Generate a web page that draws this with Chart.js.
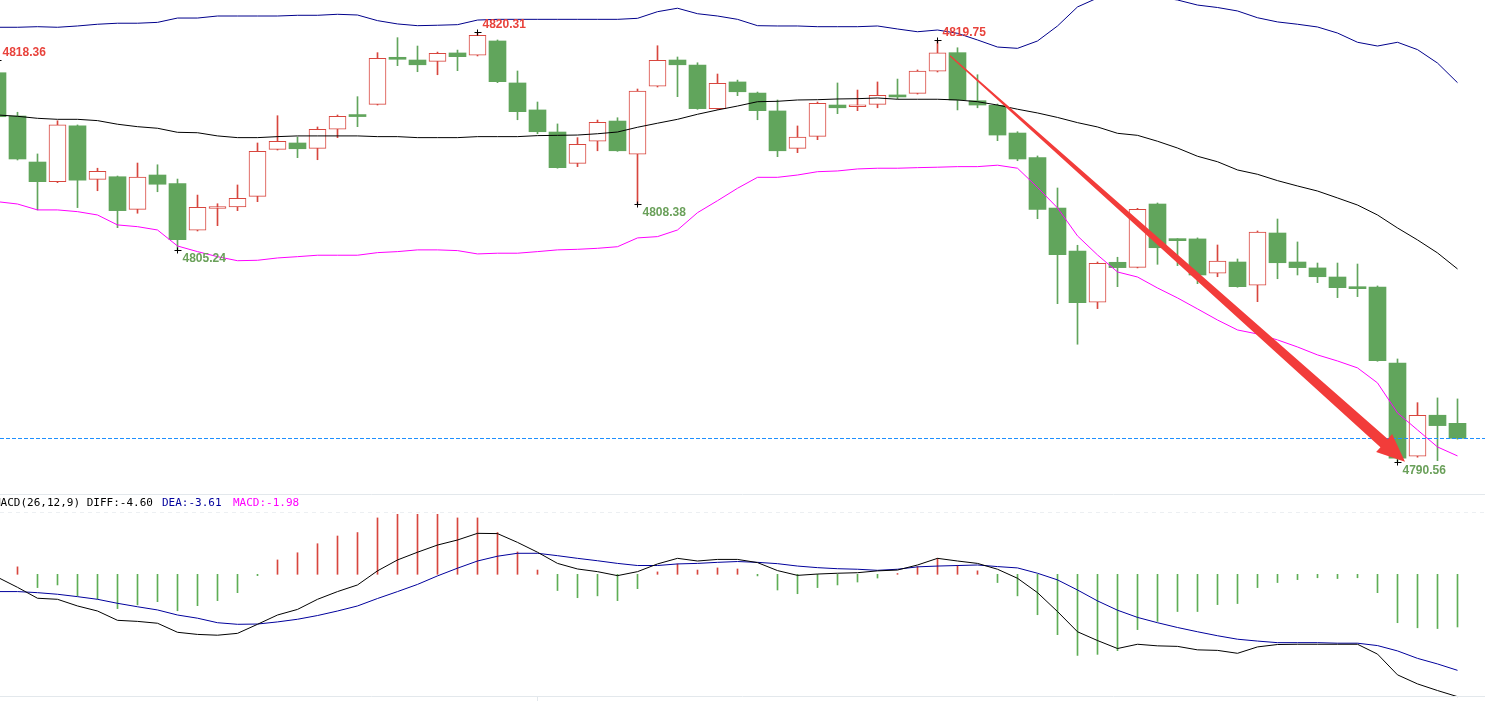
<!DOCTYPE html>
<html>
<head>
<meta charset="utf-8">
<script src="https://cdn.jsdelivr.net/npm/chart.js@4.4.0/dist/chart.umd.min.js"></script>
<style>
    body { margin: 0; background: #fff; overflow: hidden; }
    #wrap { position: relative; width: 1485px; height: 701px; }
    canvas { position: absolute; left: 0; }
    #priceChart { top: 0; width: 1485px; height: 494px; }
    #macdChart { top: 494px; width: 1485px; height: 207px; }
</style>
</head>
<body>
<div id="wrap">
    <canvas id="priceChart" width="1485" height="494"></canvas>
    <canvas id="macdChart" width="1485" height="207"></canvas>
</div>
<script>
// candles
const candleOpen = [4817.51, 4814.51, 4811.32, 4809.96, 4813.82, 4810.12, 4810.30, 4808.04, 4810.42, 4809.82,
    4806.59, 4808.10, 4808.20, 4808.94, 4812.20, 4812.64, 4812.27, 4813.59, 4814.50, 4815.32,
    4818.51, 4818.39, 4818.30, 4818.88, 4818.72, 4819.71, 4816.80, 4814.93, 4813.40, 4811.23,
    4812.76, 4814.16, 4811.86, 4816.57, 4818.39, 4818.04, 4815.02, 4816.87, 4816.10, 4814.86,
    4812.27, 4813.10, 4815.27, 4815.15, 4815.32, 4815.96, 4816.08, 4817.61, 4818.90, 4815.57,
    4815.25, 4813.33, 4811.62, 4808.13, 4805.15, 4801.60, 4804.37, 4804.02, 4808.41, 4805.96,
    4805.99, 4803.61, 4804.39, 4802.78, 4806.40, 4804.39, 4803.98, 4803.35, 4802.66, 4802.66,
    4797.39, 4790.93, 4793.77, 4793.21];
const candleHigh = [4818.36, 4814.77, 4811.88, 4814.18, 4813.89, 4810.89, 4810.35, 4811.25, 4811.13, 4810.14,
    4809.03, 4808.43, 4809.73, 4812.64, 4814.53, 4813.05, 4813.75, 4814.58, 4815.85, 4818.90,
    4819.94, 4819.36, 4818.94, 4819.08, 4820.31, 4819.78, 4817.63, 4815.48, 4813.96, 4813.01,
    4814.23, 4814.39, 4816.38, 4819.38, 4818.60, 4818.20, 4817.42, 4817.00, 4816.17, 4815.62,
    4813.82, 4815.48, 4816.80, 4816.31, 4816.87, 4817.07, 4817.70, 4819.75, 4819.24, 4817.37,
    4815.34, 4813.42, 4811.74, 4809.52, 4805.55, 4804.39, 4804.72, 4808.11, 4808.48, 4806.01,
    4806.06, 4805.57, 4804.60, 4806.54, 4807.37, 4805.78, 4804.32, 4804.32, 4804.25, 4802.73,
    4797.67, 4794.64, 4794.97, 4794.90];
const candleLow = [4814.41, 4811.46, 4808.00, 4809.89, 4808.16, 4809.33, 4806.77, 4807.77, 4809.26, 4805.24,
    4806.54, 4806.91, 4807.95, 4808.57, 4812.15, 4811.62, 4811.48, 4813.01, 4813.77, 4815.27,
    4818.00, 4817.58, 4817.37, 4817.65, 4818.67, 4816.82, 4814.25, 4813.28, 4810.89, 4811.00,
    4812.10, 4812.06, 4808.38, 4816.52, 4815.85, 4814.97, 4814.96, 4815.92, 4814.25, 4811.69,
    4811.97, 4812.87, 4814.67, 4814.88, 4815.08, 4815.69, 4816.03, 4817.56, 4814.93, 4815.08,
    4812.80, 4811.41, 4807.39, 4801.50, 4798.69, 4801.16, 4802.68, 4803.98, 4804.23, 4804.14,
    4802.89, 4803.37, 4802.64, 4801.64, 4803.23, 4803.49, 4802.96, 4801.92, 4801.99, 4797.51,
    4790.56, 4790.86, 4790.62, 4792.11];
const candleClose = [4814.46, 4811.53, 4809.96, 4813.89, 4810.07, 4810.68, 4807.95, 4810.28, 4809.78, 4805.94,
    4808.18, 4808.20, 4808.81, 4812.06, 4812.76, 4812.24, 4813.59, 4814.49, 4814.47, 4818.51,
    4818.44, 4818.06, 4818.85, 4818.62, 4820.10, 4816.89, 4814.81, 4813.42, 4810.93, 4812.55,
    4814.07, 4812.10, 4816.24, 4818.37, 4818.06, 4815.02, 4816.78, 4816.19, 4814.88, 4812.10,
    4813.05, 4815.39, 4815.08, 4815.20, 4815.94, 4815.83, 4817.63, 4818.88, 4815.62, 4815.27,
    4813.19, 4811.53, 4808.03, 4804.90, 4801.57, 4804.30, 4804.00, 4808.04, 4805.38, 4805.87,
    4803.49, 4804.46, 4802.68, 4806.47, 4804.34, 4804.00, 4803.37, 4802.61, 4802.54, 4797.55,
    4790.79, 4793.77, 4793.05, 4792.17];

// bollinger bands
const bollUpper = [4820.66, 4820.66, 4820.70, 4820.66, 4820.75, 4820.87, 4820.94, 4820.94, 4821.00, 4821.30,
    4821.30, 4821.44, 4821.44, 4821.44, 4821.44, 4821.49, 4821.49, 4821.56, 4821.51, 4821.12,
    4820.89, 4820.77, 4820.80, 4820.84, 4821.16, 4821.21, 4821.21, 4821.21, 4821.21, 4821.21,
    4821.21, 4821.21, 4821.28, 4821.74, 4821.98, 4821.60, 4821.44, 4821.21, 4820.77, 4820.75,
    4820.75, 4820.70, 4820.70, 4820.70, 4820.75, 4820.54, 4820.35, 4820.47, 4820.24, 4819.78,
    4819.29, 4819.20, 4819.71, 4820.75, 4822.07, 4822.69, 4822.97, 4822.97, 4822.76, 4822.55,
    4822.20, 4822.03, 4821.79, 4821.32, 4821.03, 4820.87, 4820.68, 4820.26, 4819.62, 4819.36,
    4819.62, 4819.11, 4818.18, 4816.82];
const bollMid = [4814.58, 4814.49, 4814.35, 4814.28, 4814.28, 4814.19, 4813.94, 4813.77, 4813.66, 4813.38,
    4813.35, 4813.13, 4813.01, 4813.01, 4813.08, 4813.13, 4813.13, 4813.13, 4813.13, 4813.08,
    4813.08, 4813.01, 4813.01, 4813.01, 4813.08, 4813.08, 4813.08, 4813.15, 4813.17, 4813.19,
    4813.28, 4813.40, 4813.73, 4814.01, 4814.28, 4814.63, 4814.93, 4815.20, 4815.50, 4815.53,
    4815.62, 4815.64, 4815.69, 4815.71, 4815.76, 4815.67, 4815.67, 4815.67, 4815.62, 4815.50,
    4815.27, 4814.98, 4814.72, 4814.41, 4814.05, 4813.75, 4813.31, 4813.17, 4812.76, 4812.29,
    4811.72, 4811.34, 4810.77, 4810.47, 4810.03, 4809.66, 4809.31, 4808.83, 4808.34, 4807.65,
    4806.75, 4805.92, 4805.02, 4803.91];
const bollLower = [4808.57, 4808.41, 4808.00, 4808.00, 4807.88, 4807.65, 4806.96, 4806.84, 4806.61, 4805.50,
    4805.11, 4804.76, 4804.48, 4804.51, 4804.67, 4804.76, 4804.86, 4804.86, 4804.86, 4805.04,
    4805.11, 4805.23, 4805.23, 4805.18, 4804.95, 4805.00, 4805.00, 4805.11, 4805.23, 4805.27,
    4805.34, 4805.45, 4806.06, 4806.15, 4806.61, 4807.81, 4808.64, 4809.50, 4810.26, 4810.26,
    4810.42, 4810.65, 4810.70, 4810.84, 4810.89, 4810.89, 4810.93, 4810.96, 4811.00, 4811.00,
    4811.10, 4810.89, 4809.56, 4808.14, 4806.20, 4804.88, 4803.70, 4803.35, 4802.59, 4801.90,
    4801.14, 4800.37, 4799.68, 4799.40, 4798.99, 4798.50, 4797.95, 4797.53, 4797.05, 4796.01,
    4793.93, 4792.75, 4791.57, 4790.95];

// MACD panel
const macdDiff = [-0.11, -0.49, -0.90, -0.94, -1.19, -1.38, -1.73, -1.77, -1.84, -2.18,
    -2.26, -2.29, -2.22, -1.88, -1.53, -1.32, -0.94, -0.65, -0.40, 0.13,
    0.54, 0.83, 1.10, 1.29, 1.54, 1.53, 1.20, 0.83, 0.41, 0.20,
    0.10, -0.05, 0.10, 0.39, 0.60, 0.50, 0.56, 0.56, 0.44, 0.14,
    -0.04, 0.01, 0.04, 0.06, 0.13, 0.16, 0.35, 0.60, 0.50, 0.41,
    0.19, -0.15, -0.69, -1.40, -2.16, -2.49, -2.79, -2.63, -2.69, -2.71,
    -2.84, -2.86, -2.97, -2.73, -2.64, -2.63, -2.63, -2.63, -2.63, -3.00,
    -3.78, -4.12, -4.37, -4.60];
const macdDea = [-0.65, -0.65, -0.69, -0.75, -0.84, -0.94, -1.09, -1.22, -1.34, -1.53,
    -1.65, -1.82, -1.88, -1.87, -1.79, -1.69, -1.55, -1.38, -1.19, -0.91,
    -0.65, -0.38, -0.06, 0.23, 0.50, 0.68, 0.79, 0.79, 0.70, 0.60,
    0.51, 0.41, 0.33, 0.33, 0.39, 0.41, 0.45, 0.48, 0.45, 0.40,
    0.31, 0.25, 0.21, 0.19, 0.15, 0.19, 0.28, 0.31, 0.33, 0.35,
    0.29, 0.24, 0.04, -0.21, -0.59, -1.00, -1.35, -1.62, -1.82, -2.00,
    -2.16, -2.31, -2.44, -2.51, -2.57, -2.57, -2.57, -2.59, -2.59, -2.68,
    -2.88, -3.16, -3.37, -3.61];
const macdHist = [1.08, 0.28, -0.50, -0.40, -0.81, -0.93, -1.29, -1.15, -1.03, -1.37,
    -1.18, -0.99, -0.69, -0.05, 0.54, 0.81, 1.15, 1.44, 1.57, 2.12,
    2.38, 2.42, 2.32, 2.12, 2.12, 1.57, 0.84, 0.16, -0.61, -0.88,
    -0.81, -0.99, -0.54, 0.09, 0.39, 0.16, 0.24, 0.20, -0.06, -0.59,
    -0.73, -0.50, -0.40, -0.29, -0.14, 0.03, 0.29, 0.60, 0.34, 0.13,
    -0.31, -0.81, -1.52, -2.27, -3.05, -3.01, -2.87, -2.08, -1.77, -1.40,
    -1.40, -1.14, -1.10, -0.50, -0.31, -0.20, -0.13, -0.16, -0.13, -0.69,
    -1.82, -2.01, -2.04, -1.98];

// marked extremes and the trend arrow (candle index, price)
const peakIdx = [0, 24, 47];
const troughIdx = [9, 32, 70];
const arrowFrom = [47.625, 4818.69];
const arrowTo = [70.375, 4790.55];

const RED = '#d8463e';
const GREEN = '#61a55c';
const xRange = { min: 0.125, max: 74.375 };

const isUp = candleClose.map((c, i) => c > candleOpen[i]);

function toPoints(values) {
    return values.map((v, i) => ({ x: i, y: v }));
}

function lineSet(values, color) {
    return {
        type: 'line',
        data: toPoints(values),
        borderColor: color,
        borderWidth: 1,
        pointRadius: 0,
        tension: 0,
        order: 0
    };
}

function drawArrow(ctx, sx, sy, tx, ty) {
    const dx = tx - sx;
    const dy = ty - sy;
    const len = Math.hypot(dx, dy);
    const ux = dx / len, uy = dy / len;
    const nx = -uy, ny = ux;
    const headLen = 28, headHalf = 12, neckHalf = 5.5, tailHalf = 0.6;
    const bx = tx - ux * headLen, by = ty - uy * headLen;

    ctx.beginPath();
    ctx.moveTo(sx + nx * tailHalf, sy + ny * tailHalf);
    ctx.lineTo(bx + nx * neckHalf, by + ny * neckHalf);
    ctx.lineTo(bx + nx * headHalf, by + ny * headHalf);
    ctx.lineTo(tx, ty);
    ctx.lineTo(bx - nx * headHalf, by - ny * headHalf);
    ctx.lineTo(bx - nx * neckHalf, by - ny * neckHalf);
    ctx.lineTo(sx - nx * tailHalf, sy - ny * tailHalf);
    ctx.closePath();
    ctx.fillStyle = '#f23c3a';
    ctx.fill();
}

const priceOverlay = {
    id: 'priceOverlay',
    afterDatasetsDraw(chart) {
        const ctx = chart.ctx;
        const xs = chart.scales.x;
        const ys = chart.scales.y;
        ctx.save();

        // last price line
        const lastY = Math.round(ys.getPixelForValue(candleClose[candleClose.length - 1])) + 0.5;
        ctx.strokeStyle = '#1e90ff';
        ctx.lineWidth = 1;
        ctx.setLineDash([4, 2]);
        ctx.beginPath();
        ctx.moveTo(0, lastY);
        ctx.lineTo(chart.width, lastY);
        ctx.stroke();
        ctx.setLineDash([]);

        // extremes: small cross + value
        ctx.font = 'bold 12px "Liberation Sans", Arial, sans-serif';
        ctx.textBaseline = 'middle';
        ctx.textAlign = 'left';
        const marks = peakIdx.map(i => ({ i, v: candleHigh[i], up: true }))
            .concat(troughIdx.map(i => ({ i, v: candleLow[i], up: false })));
        marks.forEach(({ i, v, up }) => {
            const px = Math.floor(xs.getPixelForValue(i)) + 0.5;
            const py = Math.round(ys.getPixelForValue(v)) + 0.5;
            ctx.strokeStyle = '#000';
            ctx.beginPath();
            ctx.moveTo(px - 3, py);
            ctx.lineTo(px + 4, py);
            ctx.moveTo(px, py - 3);
            ctx.lineTo(px, py + 3);
            ctx.stroke();
            ctx.fillStyle = up ? '#e8433c' : '#6aa05a';
            ctx.fillText(v.toFixed(2), px + 5, up ? py - 8 : py + 8);
        });

        // trend arrow
        drawArrow(ctx,
            xs.getPixelForValue(arrowFrom[0]), ys.getPixelForValue(arrowFrom[1]),
            xs.getPixelForValue(arrowTo[0]), ys.getPixelForValue(arrowTo[1]));

        ctx.restore();
    }
};

const macdOverlay = {
    id: 'macdOverlay',
    afterDraw(chart) {
        const ctx = chart.ctx;
        const last = macdDiff.length - 1;
        ctx.save();
        ctx.strokeStyle = '#e3e8ec';
        ctx.lineWidth = 1;
        ctx.beginPath();
        ctx.moveTo(0, 0.5);
        ctx.lineTo(chart.width, 0.5);
        ctx.moveTo(0, 202.5);
        ctx.lineTo(chart.width, 202.5);
        ctx.moveTo(537.5, 203);
        ctx.lineTo(537.5, 207);
        ctx.stroke();

        ctx.strokeStyle = '#eceff2';
        ctx.setLineDash([4, 4]);
        ctx.beginPath();
        ctx.moveTo(0, 18.5);
        ctx.lineTo(chart.width, 18.5);
        ctx.stroke();
        ctx.setLineDash([]);

        ctx.font = '11px "DejaVu Sans Mono", monospace';
        ctx.textBaseline = 'middle';
        ctx.textAlign = 'left';
        ctx.fillStyle = '#000';
        ctx.fillText('MACD(26,12,9) DIFF:' + macdDiff[last].toFixed(2), -6, 9);
        ctx.fillStyle = '#00009c';
        ctx.fillText('DEA:' + macdDea[last].toFixed(2), 162, 9);
        ctx.fillStyle = '#ff00ff';
        ctx.fillText('MACD:' + macdHist[last].toFixed(2), 233, 9);
        ctx.restore();
    }
};

function createPriceChart() {
    const ctx = document.getElementById('priceChart').getContext('2d');
    new Chart(ctx, {
        type: 'bar',
        data: {
            datasets: [
                lineSet(bollUpper, '#00008b'),
                lineSet(bollMid, '#000000'),
                lineSet(bollLower, '#ff00ff'),
                {
                    data: candleOpen.map((o, i) => ({ x: i, y: [o, candleClose[i]] })),
                    backgroundColor: isUp.map(u => u ? '#ffffff' : GREEN),
                    borderColor: isUp.map(u => u ? RED : GREEN),
                    borderWidth: isUp.map(u => u ? 1 : 0),
                    borderSkipped: false,
                    barThickness: 17,
                    minBarLength: 2,
                    grouped: false,
                    order: 1
                },
                {
                    data: candleLow.map((l, i) => ({ x: i, y: [l, candleHigh[i]] })),
                    backgroundColor: isUp.map(u => u ? RED : GREEN),
                    borderWidth: 0,
                    barThickness: 1,
                    grouped: false,
                    order: 2
                }
            ]
        },
        options: {
            responsive: false,
            animation: false,
            devicePixelRatio: 1,
            layout: { padding: 0 },
            plugins: { legend: { display: false }, tooltip: { enabled: false } },
            scales: {
                x: { type: 'linear', min: xRange.min, max: xRange.max, offset: false, display: false },
                y: { min: 4788.31, max: 4822.55, display: false }
            }
        },
        plugins: [priceOverlay]
    });
}

function createMacdChart() {
    const ctx = document.getElementById('macdChart').getContext('2d');
    new Chart(ctx, {
        type: 'bar',
        data: {
            datasets: [
                lineSet(macdDiff, '#000000'),
                lineSet(macdDea, '#00009c'),
                {
                    data: toPoints(macdHist),
                    backgroundColor: macdHist.map(v => v >= 0 ? RED : '#5eae55'),
                    borderWidth: 0,
                    barThickness: 1,
                    grouped: false,
                    order: 1
                }
            ]
        },
        options: {
            responsive: false,
            animation: false,
            devicePixelRatio: 1,
            layout: { padding: { top: 20, left: 0, right: 0, bottom: 0 } },
            plugins: { legend: { display: false }, tooltip: { enabled: false } },
            scales: {
                x: { type: 'linear', min: xRange.min, max: xRange.max, offset: false, display: false },
                y: { min: -4.763, max: 2.267, display: false }
            }
        },
        plugins: [macdOverlay]
    });
}

createPriceChart();
createMacdChart();
</script>
</body>
</html>
